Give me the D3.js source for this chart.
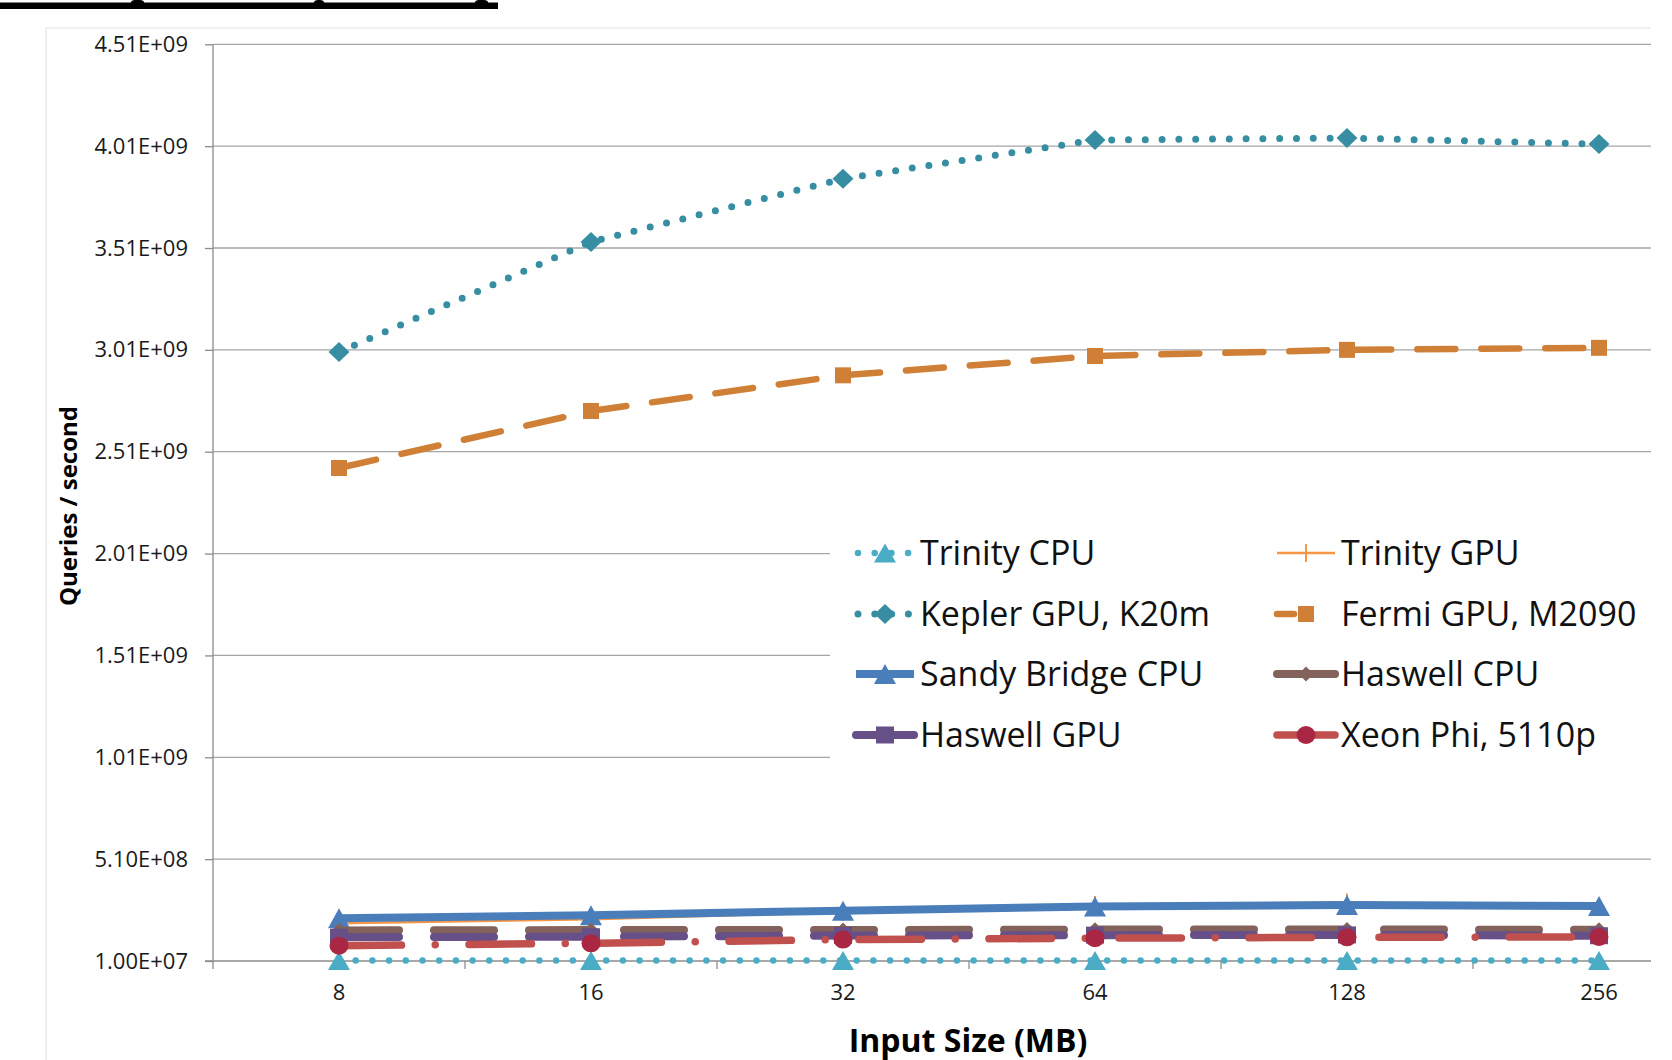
<!DOCTYPE html>
<html>
<head>
<meta charset="utf-8">
<script src="https://cdn.jsdelivr.net/npm/d3@7"></script>
<style>
  body { margin: 0; background: #fff; }
  svg { display: block; font-family: "Open Sans", sans-serif; }
</style>
</head>
<body>
<svg id="chart" width="1672" height="1060"></svg>
<script>
// values (queries / second)
var sizes = ["8", "16", "32", "64", "128", "256"];
var yTicks = [1.0e7, 5.1e8, 1.01e9, 1.51e9, 2.01e9, 2.51e9, 3.01e9, 3.51e9, 4.01e9, 4.51e9];

var trinityCpu = [1.2e7, 1.2e7, 1.2e7, 1.2e7, 1.2e7, 1.2e7];
var trinityGpu = [1.95e8, 2.15e8, 2.5e8, 2.85e8, 2.97e8, 2.75e8];
var keplerGpu = [3.0e9, 3.54e9, 3.85e9, 4.04e9, 4.05e9, 4.02e9];
var fermiGpu = [2.43e9, 2.71e9, 2.885e9, 2.98e9, 3.01e9, 3.02e9];
var sandyCpu = [2.2e8, 2.35e8, 2.57e8, 2.78e8, 2.85e8, 2.8e8];
var haswellCpu = [1.6e8, 1.62e8, 1.62e8, 1.64e8, 1.65e8, 1.63e8];
var haswellGpu = [1.27e8, 1.29e8, 1.35e8, 1.37e8, 1.38e8, 1.34e8];
var xeonPhi = [8.5e7, 9.7e7, 1.15e8, 1.22e8, 1.26e8, 1.28e8];

// series in legend order (row by row)
var series = [
	{ name: "Trinity CPU", values: trinityCpu, color: "#4BACC6", width: 6.5, dash: "0 16.7", marker: "triangle", mfill: "#4BACC6", mw: 22, mh: 19 },
	{ name: "Trinity GPU", values: trinityGpu, color: "#F79646", width: 2.5, dash: null, marker: "plus", mfill: "#F79646", mw: 2, mh: 18 },
	{ name: "Kepler GPU, K20m", values: keplerGpu, color: "#378EA3", width: 7, dash: "0 16.8", marker: "diamond", mfill: "#378EA3", mw: 21, mh: 20 },
	{ name: "Fermi GPU, M2090", values: fermiGpu, color: "#D08036", width: 6.5, dash: "38 26", legendDash: "17 100", marker: "square", mfill: "#D08036", mw: 16, mh: 16 },
	{ name: "Sandy Bridge CPU", values: sandyCpu, color: "#4A7EBB", width: 8, dash: null, marker: "triangle", mfill: "#4A7EBB", mw: 22, mh: 20 },
	{ name: "Haswell CPU", values: haswellCpu, color: "#82625A", width: 8, dash: "60 35", marker: "diamond", mfill: "#82625A", mw: 15, mh: 15 },
	{ name: "Haswell GPU", values: haswellGpu, color: "#674F88", width: 8, dash: "60 35", marker: "square", mfill: "#674F88", mw: 18, mh: 17 },
	{ name: "Xeon Phi, 5110p", values: xeonPhi, color: "#C0504D", width: 7.5, dash: "62.5 33.75 0 33.75", marker: "circle", mfill: "#AA2743", mw: 19, mh: 18 }
];

var svg = d3.select("#chart");
var plotLeft = 213, plotTop = 44.3, plotBottom = 961, gridRight = 1651;

var x = d3.scaleBand().domain(sizes).range([plotLeft, plotLeft + 252 * sizes.length]);
var y = d3.scaleLinear().domain([1.0e7, 4.51e9]).range([plotBottom, plotTop]);
function cx(i) { return x(sizes[i]) + x.bandwidth() / 2; }

// 4.51e+9 -> 4.51E+09
function excelSci(d) {
	var parts = d.toExponential(2).split("e");
	var e = parts[1];
	return parts[0] + "E" + e[0] + e.slice(1).padStart(2, "0");
}

function markerPath(type, w, h) {
	var a = w / 2, b = h / 2;
	if (type === "triangle") return "M0," + (-b) + "L" + a + "," + b + "L" + (-a) + "," + b + "Z";
	if (type === "diamond") return "M0," + (-b) + "L" + a + ",0L0," + b + "L" + (-a) + ",0Z";
	if (type === "square") return "M" + (-a) + "," + (-b) + "H" + a + "V" + b + "H" + (-a) + "Z";
	if (type === "circle") return "M" + (-a) + ",0A" + a + "," + b + " 0 1,0 " + a + ",0A" + a + "," + b + " 0 1,0 " + (-a) + ",0Z";
	return "M0," + (-b) + "V" + b;
}

function drawMarker(g, s, px, py) {
	var p = g.append("path")
		.attr("transform", "translate(" + px + "," + py + ")")
		.attr("d", markerPath(s.marker, s.mw, s.mh));
	if (s.marker === "plus") {
		p.attr("fill", "none").attr("stroke", s.mfill).attr("stroke-width", 2);
	} else {
		p.attr("fill", s.mfill);
	}
}

// cut-off underlined heading at the very top
var head = svg.append("g").attr("fill", "#000");
head.append("rect").attr("x", 0).attr("y", 2.5).attr("width", 498).attr("height", 6.5);
[[131, 13], [314, 10], [475, 13]].forEach(function (b) {
	head.append("rect").attr("x", b[0]).attr("y", 0).attr("width", b[1]).attr("height", 5).attr("rx", 4);
});

// faint chart border
svg.append("path")
	.attr("d", "M46,1060V28H" + gridRight)
	.attr("fill", "none").attr("stroke", "#e4e4e4").attr("stroke-width", 1.2);

// gridlines
svg.append("g").selectAll("line").data(yTicks.slice(1)).join("line")
	.attr("x1", plotLeft).attr("x2", gridRight)
	.attr("y1", function (d) { return y(d); }).attr("y2", function (d) { return y(d); })
	.attr("stroke", "#a6a6a6").attr("stroke-width", 1.3);

// y axis
var yAxis = svg.append("g")
	.attr("transform", "translate(" + plotLeft + ",0)")
	.call(d3.axisLeft(y).tickValues(yTicks).tickFormat(excelSci).tickSize(8).tickPadding(17));
yAxis.attr("font-family", null).attr("font-size", null);
yAxis.select(".domain").remove();
yAxis.selectAll(".tick line").attr("stroke", "#8c8c8c").attr("stroke-width", 1.3);
yAxis.selectAll("text").attr("font-size", 22).attr("fill", "#1a1a1a");
svg.append("line")
	.attr("x1", plotLeft).attr("x2", plotLeft).attr("y1", plotTop).attr("y2", plotBottom + 8)
	.attr("stroke", "#8c8c8c").attr("stroke-width", 1.3);

// x axis: line at the bottom gridline, ticks between categories
svg.append("line")
	.attr("x1", plotLeft - 8).attr("x2", gridRight).attr("y1", plotBottom).attr("y2", plotBottom)
	.attr("stroke", "#8c8c8c").attr("stroke-width", 1.3);
svg.append("g").selectAll("line").data(sizes.slice(1)).join("line")
	.attr("x1", function (d) { return x(d); }).attr("x2", function (d) { return x(d); })
	.attr("y1", plotBottom).attr("y2", plotBottom + 8)
	.attr("stroke", "#8c8c8c").attr("stroke-width", 1.3);
var xAxis = svg.append("g")
	.attr("transform", "translate(0," + plotBottom + ")")
	.call(d3.axisBottom(x).tickSize(0).tickPadding(23));
xAxis.attr("font-family", null).attr("font-size", null);
xAxis.select(".domain").remove();
xAxis.selectAll("text").attr("font-size", 22).attr("fill", "#1a1a1a");

// axis titles
svg.append("text")
	.attr("x", 968).attr("y", 1052)
	.attr("text-anchor", "middle").attr("font-size", 32).attr("font-weight", "bold")
	.text("Input Size (MB)");
svg.append("text")
	.attr("transform", "translate(77,506) rotate(-90)")
	.attr("text-anchor", "middle").attr("font-size", 24).attr("font-weight", "bold")
	.text("Queries / second");

// series lines then markers
var line = d3.line()
	.x(function (d, i) { return cx(i); })
	.y(function (d) { return y(d); });

series.forEach(function (s) {
	var g = svg.append("g");
	g.append("path")
		.attr("d", line(s.values))
		.attr("fill", "none")
		.attr("stroke", s.color)
		.attr("stroke-width", s.width)
		.attr("stroke-linecap", s.dash ? "round" : "butt")
		.attr("stroke-linejoin", "round")
		.attr("stroke-dasharray", s.dash);
	s.values.forEach(function (v, i) {
		drawMarker(g, s, cx(i), y(v));
	});
});

// legend box sits over the gridlines
var legend = svg.append("g");
legend.append("rect").attr("x", 830).attr("y", 520).attr("width", 842).attr("height", 250).attr("fill", "#fff");

var colX = [885, 1306], rowY = [553, 614, 674, 735];
series.forEach(function (s, i) {
	var mx = colX[i % 2], my = rowY[Math.floor(i / 2)];
	var g = legend.append("g");
	var dotted = s.dash && s.dash.indexOf("0 ") === 0;
	g.append("line")
		.attr("x1", dotted ? mx - 27 : mx - 29).attr("x2", mx + 29)
		.attr("y1", my).attr("y2", my)
		.attr("stroke", s.color)
		.attr("stroke-width", s.width)
		.attr("stroke-linecap", s.dash ? "round" : "butt")
		.attr("stroke-dasharray", s.legendDash || (dotted ? s.dash : null));
	drawMarker(g, s, mx, my);
	g.append("text")
		.attr("x", mx + 35).attr("y", my + 12)
		.attr("font-size", 34).attr("fill", "#111")
		.text(s.name);
});
</script>
</body>
</html>
